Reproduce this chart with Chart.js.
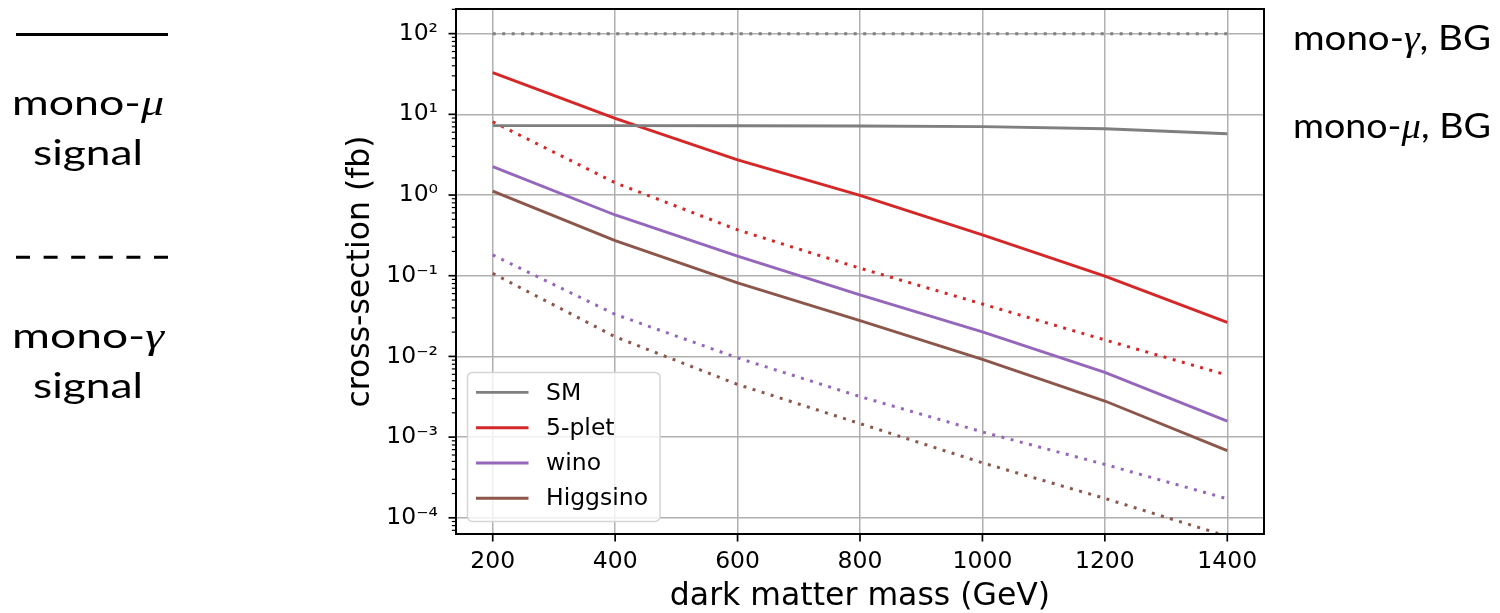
<!DOCTYPE html>
<html>
<head>
<meta charset="utf-8">
<title>Dark matter cross-sections</title>
<script src="https://cdn.jsdelivr.net/npm/chart.js@4.4.1/dist/chart.umd.min.js"></script>
<style>
  html, body { margin: 0; padding: 0; background: #fff; }
  canvas { display: block; }
</style>
</head>
<body>
<canvas id="xsecChart" width="1500" height="613"></canvas>
<script>
// dark matter mass (GeV)
const masses = [200, 400, 600, 800, 1000, 1200, 1400];

// cross-sections in fb; "Mu" = mono-muon channel, "Gamma" = mono-photon channel
const smMu = [7.24, 7.24, 7.22, 7.18, 7.04, 6.62, 5.75];
const smGamma = [100, 100, 100, 100, 100, 100, 100];
const fivepletMu = [32.9, 8.9, 2.72, 0.99, 0.32, 0.099, 0.0264];
const fivepletGamma = [8.1, 1.42, 0.37, 0.124, 0.0446, 0.016, 0.00587];
const winoMu = [2.25, 0.566, 0.175, 0.058, 0.0202, 0.00634, 0.00158];
const winoGamma = [0.181, 0.0332, 0.0096, 0.00318, 0.00116, 0.000459, 0.000172];
const higgsinoMu = [1.12, 0.272, 0.0818, 0.0277, 0.0092, 0.0028, 0.00068];
const higgsinoGamma = [0.107, 0.0175, 0.0045, 0.00147, 0.00048, 0.000174, 0.000059];

const xTicks = [200, 400, 600, 800, 1000, 1200, 1400];
const yDecades = [-4, -3, -2, -1, 0, 1, 2];

const GRAY = '#7f7f7f';
const RED = '#d62728';
const PURPLE = '#9467bd';
const BROWN = '#8c564b';

const FONT = 'DejaVu Sans';
const DOTS = [3, 6.5];

const SUP = { '-': '\u207B', '0': '\u2070', '1': '\u00B9', '2': '\u00B2', '3': '\u00B3', '4': '\u2074' };

function decadeLabel(exp) {
    return '10' + String(exp).split('').map(c => SUP[c]).join('');
}

function points(ys) {
    return masses.map((m, i) => ({ x: m, y: ys[i] }));
}

function series(label, ys, color, dotted) {
    return {
        label: label,
        data: points(ys),
        borderColor: color,
        backgroundColor: color,
        borderWidth: dotted ? 3 : 2.9,
        borderDash: dotted ? DOTS : [],
        pointRadius: 0,
        tension: 0,
        fill: false,
        clip: 0,
        inLegend: !dotted
    };
}

function logTicks(min, max) {
    let ticks = [];
    for (let e = yDecades[0] - 1; e <= yDecades[yDecades.length - 1]; e++) {
        for (let m = 1; m <= 9; m++) {
            let v = m * Math.pow(10, e);
            if (v >= min && v <= max) {
                ticks.push({ value: v, major: m === 1 });
            }
        }
    }
    return ticks;
}

// text pieces with their own fonts, stretched to fill the given width
function drawRuns(ctx, runs, x, y, align, width) {
    let widths = runs.map(r => { ctx.font = r.font; return ctx.measureText(r.text).width; });
    let total = widths.reduce((a, b) => a + b, 0);
    ctx.save();
    ctx.translate(x, y);
    ctx.scale(width / total, 1);
    ctx.textBaseline = 'alphabetic';
    ctx.textAlign = 'left';
    ctx.fillStyle = '#000';
    let cx = align === 'center' ? -total / 2 : 0;
    runs.forEach((r, i) => {
        ctx.font = r.font;
        ctx.fillText(r.text, cx, 0);
        cx += widths[i];
    });
    ctx.restore();
}

const SANS = '34px Lato';
const GREEK = 'italic 35px "Liberation Serif"';

function channelRuns(greek, tail) {
    let runs = [{ text: 'mono-', font: SANS }, { text: greek, font: GREEK }];
    if (tail) runs.push({ text: tail, font: SANS });
    return runs;
}

const framePlugin = {
    id: 'frame',
    afterDraw(chart) {
        const ctx = chart.ctx;
        const area = chart.chartArea;
        const xs = chart.scales.x;
        const ys = chart.scales.y;
        ctx.save();

        // tick marks, outward
        ctx.strokeStyle = '#000';
        xs.ticks.forEach(t => {
            let px = xs.getPixelForValue(t.value);
            ctx.lineWidth = 1.7;
            ctx.beginPath();
            ctx.moveTo(px, area.bottom);
            ctx.lineTo(px, area.bottom + 7.5);
            ctx.stroke();
        });
        ys.ticks.forEach(t => {
            let py = ys.getPixelForValue(t.value);
            ctx.lineWidth = t.major ? 1.7 : 1.2;
            ctx.beginPath();
            ctx.moveTo(area.left, py);
            ctx.lineTo(area.left - (t.major ? 7.5 : 4.2), py);
            ctx.stroke();
        });

        // axes box
        ctx.lineWidth = 2;
        ctx.strokeRect(area.left, area.top, area.right - area.left, area.bottom - area.top);

        // legend, lower left
        const items = chart.data.datasets.filter(d => d.inLegend);
        ctx.font = '23.5px "' + FONT + '"';
        let textW = Math.max(...items.map(d => ctx.measureText(d.label).width));
        const rowH = 35.3;
        let boxL = area.left + 11.5;
        let boxB = area.bottom - 12.5;
        let boxW = 78.5 + textW + 12;
        let boxH = 20 + rowH * (items.length - 1) + 23.2;
        let boxT = boxB - boxH;
        ctx.beginPath();
        ctx.roundRect(boxL, boxT, boxW, boxH, 5);
        ctx.fillStyle = 'rgba(255,255,255,0.8)';
        ctx.fill();
        ctx.lineWidth = 1.5;
        ctx.strokeStyle = '#d5d5d5';
        ctx.stroke();
        ctx.textBaseline = 'middle';
        ctx.textAlign = 'left';
        items.forEach((d, i) => {
            let y = boxT + 20 + i * rowH;
            ctx.strokeStyle = d.borderColor;
            ctx.lineWidth = 2.9;
            ctx.beginPath();
            ctx.moveTo(boxL + 8.5, y);
            ctx.lineTo(boxL + 61, y);
            ctx.stroke();
            ctx.fillStyle = '#000';
            ctx.fillText(d.label, boxL + 78.5, y + 1);
        });

        // channel key on the left
        ctx.strokeStyle = '#000';
        ctx.lineWidth = 3;
        ctx.beginPath();
        ctx.moveTo(16, 34.5);
        ctx.lineTo(168, 34.5);
        ctx.stroke();
        ctx.setLineDash([14, 13.6]);
        ctx.beginPath();
        ctx.moveTo(16, 257.3);
        ctx.lineTo(168, 257.3);
        ctx.stroke();
        ctx.setLineDash([]);

        drawRuns(ctx, channelRuns('\u03BC'), 88, 115, 'center', 152);
        drawRuns(ctx, [{ text: 'signal', font: SANS }], 88, 165, 'center', 110);
        drawRuns(ctx, channelRuns('\u03B3'), 88, 348.3, 'center', 152);
        drawRuns(ctx, [{ text: 'signal', font: SANS }], 88, 398.3, 'center', 110);

        // background labels on the right
        drawRuns(ctx, channelRuns('\u03B3', ', BG'), 1293, 50, 'left', 198);
        drawRuns(ctx, channelRuns('\u03BC', ', BG'), 1293, 138.3, 'left', 198);

        ctx.restore();
    }
};

const ctx = document.getElementById('xsecChart');
const xsecChart = new Chart(ctx, {
    type: 'line',
    data: {
        datasets: [
            series('SM', smMu, GRAY, false),
            series('SM mono-\u03B3', smGamma, GRAY, true),
            series('5-plet', fivepletMu, RED, false),
            series('5-plet mono-\u03B3', fivepletGamma, RED, true),
            series('wino', winoMu, PURPLE, false),
            series('wino mono-\u03B3', winoGamma, PURPLE, true),
            series('Higgsino', higgsinoMu, BROWN, false),
            series('Higgsino mono-\u03B3', higgsinoGamma, BROWN, true)
        ]
    },
    options: {
        responsive: false,
        animation: false,
        devicePixelRatio: 1,
        layout: { padding: { left: 300, right: 236, top: 9, bottom: 0 } },
        plugins: {
            legend: { display: false },
            tooltip: { enabled: false }
        },
        scales: {
            x: {
                type: 'linear',
                min: 140,
                max: 1460,
                bounds: 'data',
                afterBuildTicks(scale) {
                    scale.ticks = xTicks.map(v => ({ value: v }));
                },
                afterFit(scale) {
                    scale.height = 79;
                    scale.paddingLeft = 0;
                    scale.paddingRight = 0;
                },
                grid: { color: '#b0b0b0', lineWidth: 1.5, drawTicks: false },
                border: { display: false },
                ticks: {
                    autoSkip: false,
                    maxRotation: 0,
                    padding: 13.5,
                    color: '#000',
                    font: { family: FONT, size: 23.5 },
                    callback: value => String(value)
                },
                title: {
                    display: true,
                    text: 'dark matter mass (GeV)',
                    color: '#000',
                    padding: 0,
                    font: { family: FONT, size: 31.5, lineHeight: 1 }
                }
            },
            y: {
                type: 'logarithmic',
                min: 6.3e-5,
                max: 202,
                bounds: 'data',
                afterBuildTicks(scale) {
                    scale.ticks = logTicks(scale.min, scale.max);
                },
                afterFit(scale) {
                    scale.width = 156;
                    scale.paddingTop = 0;
                    scale.paddingBottom = 0;
                },
                grid: {
                    color: c => (c.tick && c.tick.major) ? '#b0b0b0' : 'rgba(0,0,0,0)',
                    lineWidth: 1.5,
                    drawTicks: false
                },
                border: { display: false },
                ticks: {
                    autoSkip: false,
                    padding: 18,
                    color: '#000',
                    font: { family: FONT, size: 23.5 },
                    callback: function (value, index, ticks) {
                        if (!ticks[index].major) return '';
                        return decadeLabel(Math.round(Math.log10(value)));
                    }
                },
                title: {
                    display: true,
                    text: 'cross-section (fb)',
                    color: '#000',
                    padding: { top: 45, bottom: 0 },
                    font: { family: FONT, size: 31.5, lineHeight: 1 }
                }
            }
        }
    },
    plugins: [framePlugin]
});
</script>
</body>
</html>
